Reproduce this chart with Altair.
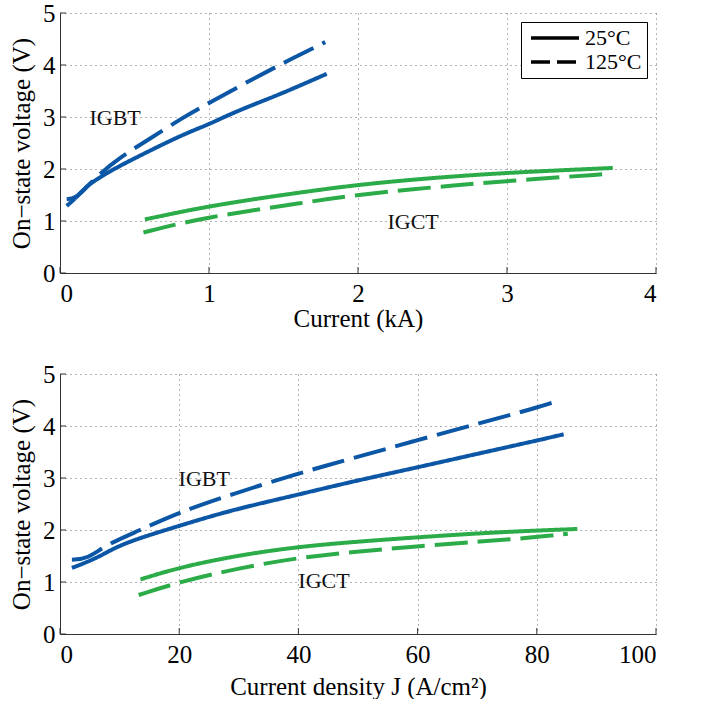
import altair as alt
import pandas as pd

FONT = "Liberation Serif"
BLUE = "#0b56a5"
GREEN = "#2bac48"
AXIS_COL = "#333333"

# ---------------- top panel: current (kA) ----------------
top_igbt25_x = [0.045, 0.11, 0.18, 0.28, 0.38, 0.58, 0.83, 1.0, 1.1, 1.28, 1.48, 1.79]
top_igbt25_y = [1.29, 1.45, 1.68, 1.86, 2.03, 2.32, 2.67, 2.86, 3.0, 3.22, 3.44, 3.83]
top_igbt125_x = [0.045, 0.1, 0.17, 0.25, 0.4, 0.58, 0.83, 1.0, 1.28, 1.52, 1.78]
top_igbt125_y = [1.42, 1.43, 1.62, 1.87, 2.22, 2.54, 3.0, 3.27, 3.71, 4.07, 4.44]
top_igct25_x = [0.57, 0.8, 1.0, 1.3, 1.59, 2.0, 2.5, 3.0, 3.71]
top_igct25_y = [1.03, 1.17, 1.28, 1.42, 1.54, 1.70, 1.83, 1.93, 2.02]
top_igct125_x = [0.56, 0.8, 1.0, 1.3, 1.59, 1.92, 2.5, 3.0, 3.70]
top_igct125_y = [0.78, 0.95, 1.07, 1.21, 1.33, 1.48, 1.65, 1.77, 1.91]

# ---------------- bottom panel: current density (A/cm2) ----------------
bot_igbt25_x = [2.0, 6.2, 9.0, 12.9, 20.0, 28.6, 40.0, 48.2, 59.4, 70.6, 80.0, 84.5]
bot_igbt25_y = [1.27, 1.46, 1.65, 1.83, 2.08, 2.38, 2.68, 2.91, 3.19, 3.48, 3.72, 3.84]
bot_igbt125_x = [2.0, 4.6, 7.8, 12.9, 20.0, 28.6, 40.0, 48.2, 59.4, 70.6, 80.0, 83.2]
bot_igbt125_y = [1.43, 1.44, 1.72, 1.97, 2.34, 2.68, 3.09, 3.35, 3.71, 4.06, 4.35, 4.47]
bot_igct25_x = [13.5, 20.0, 29.7, 40.0, 50.3, 60.0, 70.6, 80.0, 86.8]
bot_igct25_y = [1.05, 1.28, 1.51, 1.68, 1.78, 1.86, 1.94, 1.99, 2.02]
bot_igct125_x = [13.2, 20.0, 29.7, 40.0, 50.3, 60.3, 70.6, 80.0, 85.2]
bot_igct125_y = [0.75, 1.00, 1.26, 1.47, 1.59, 1.69, 1.78, 1.86, 1.93]

top_xticks = [0, 1, 2, 3, 4]
bot_xticks = [0, 20, 40, 60, 80, 100]
yticks = [0, 1, 2, 3, 4, 5]

devices = ["IGBT", "IGCT"]
temps = ["25°C", "125°C"]

top_labels = ["IGBT", "IGCT"]
top_label_x = [0.37, 2.37]
top_label_y = [2.99, 0.98]
bot_labels = ["IGBT", "IGCT"]
bot_label_x = [24.2, 44.3]
bot_label_y = [2.98, 1.02]

W, H = 596, 260


def make_lines(series):
    rows = []
    for dev, temp, xs, ys in series:
        for i, (xv, yv) in enumerate(zip(xs, ys)):
            rows.append(dict(x=xv, y=yv, device=dev, temp=temp,
                             series=dev + temp, order=i))
    return pd.DataFrame(rows)


def panel(series, xdomain, xticks, xtitle, lab, lab_x, lab_y, show_legend, xtitle_pad):
    df = make_lines(series)
    x_enc = alt.X("x:Q", scale=alt.Scale(domain=xdomain, nice=False, zero=False),
                  axis=alt.Axis(values=xticks, title=xtitle, format="d",
                                labelFont=FONT, titleFont=FONT,
                                titlePadding=xtitle_pad))
    y_enc = alt.Y("y:Q", scale=alt.Scale(domain=[0, 5], nice=False),
                  axis=alt.Axis(values=yticks, title="On\u2212state voltage (V)", format="d",
                                labelFont=FONT, titleFont=FONT))
    lines = alt.Chart(df).mark_line(strokeWidth=4, interpolate="basis",
                                    strokeCap="butt").encode(
        x=x_enc, y=y_enc,
        color=alt.Color("device:N", scale=alt.Scale(domain=devices, range=[BLUE, GREEN]),
                        legend=None),
        strokeDash=alt.StrokeDash("temp:N",
                                  scale=alt.Scale(domain=temps, range=[[1, 0], [33, 10]]),
                                  legend=None),
        detail="series:N",
        order="order:Q",
    )
    xt = alt.Chart(pd.DataFrame({"x": xticks})).mark_rule(
        color=AXIS_COL, strokeWidth=1).encode(x=x_enc, y=alt.value(H), y2=alt.value(H - 6))
    yt = alt.Chart(pd.DataFrame({"y": yticks})).mark_rule(
        color=AXIS_COL, strokeWidth=1).encode(y=y_enc, x=alt.value(0), x2=alt.value(6))
    txt = alt.Chart(pd.DataFrame({"x": lab_x, "y": lab_y, "t": lab})).mark_text(
        font=FONT, fontSize=22, color="#111", align="center", baseline="middle"
    ).encode(x=x_enc, y=y_enc, text="t:N")
    layers = [xt, yt, lines, txt]
    if show_legend:
        # one point per temperature: draws no visible line, only feeds the legend
        leg_df = pd.DataFrame({"x": [xdomain[0]] * 2, "y": [0, 0], "temp2": temps})
        leg = alt.Chart(leg_df).mark_line(color="black", strokeWidth=3.5).encode(
            x=x_enc, y=y_enc,
            strokeDash=alt.StrokeDash(
                "temp2:N", scale=alt.Scale(domain=temps, range=[[1, 0], [19, 7]]),
                legend=alt.Legend(
                    title=None, orient="top-right", offset=9,
                    strokeColor="black", fillColor="white", padding=5,
                    symbolType="M-1,0H7", symbolSize=144,
                    symbolStrokeColor="black", symbolStrokeWidth=3.5,
                    labelFont=FONT, labelFontSize=22, labelColor="black",
                    rowPadding=2, labelOffset=37)),
            detail="temp2:N",
        )
        layers.append(leg)
    return alt.layer(*layers).resolve_scale(strokeDash="independent").properties(
        width=W, height=H)


top = panel(
    [("IGBT", "25°C", top_igbt25_x, top_igbt25_y),
     ("IGBT", "125°C", top_igbt125_x, top_igbt125_y),
     ("IGCT", "25°C", top_igct25_x, top_igct25_y),
     ("IGCT", "125°C", top_igct125_x, top_igct125_y)],
    [0, 4], top_xticks, "Current (kA)", top_labels, top_label_x, top_label_y, True, 0)

bottom = panel(
    [("IGBT", "25°C", bot_igbt25_x, bot_igbt25_y),
     ("IGBT", "125°C", bot_igbt125_x, bot_igbt125_y),
     ("IGCT", "25°C", bot_igct25_x, bot_igct25_y),
     ("IGCT", "125°C", bot_igct125_x, bot_igct125_y)],
    [0, 100], bot_xticks, "Current density J (A/cm\u00b2)", bot_labels, bot_label_x,
    bot_label_y, False, 7)

chart = alt.vconcat(top, bottom, spacing=31).resolve_scale(
    x="independent", color="independent", strokeDash="independent"
).properties(
    padding={"left": 9, "top": 1, "right": 0, "bottom": 0}
).configure(font=FONT).configure_view(stroke=None).configure_axis(
    labelFont=FONT, titleFont=FONT, labelFontSize=25, titleFontSize=25,
    labelColor="black", titleColor="black", titleFontWeight="normal",
    domainColor=AXIS_COL, domainWidth=1, tickSize=0, labelPadding=8,
    grid=True, gridColor="#666666", gridDash=[1, 4], gridWidth=1,
).configure_axisY(titlePadding=8, labelPadding=5)

chart.save("out.html", embed_options={"renderer": "svg", "actions": False})
